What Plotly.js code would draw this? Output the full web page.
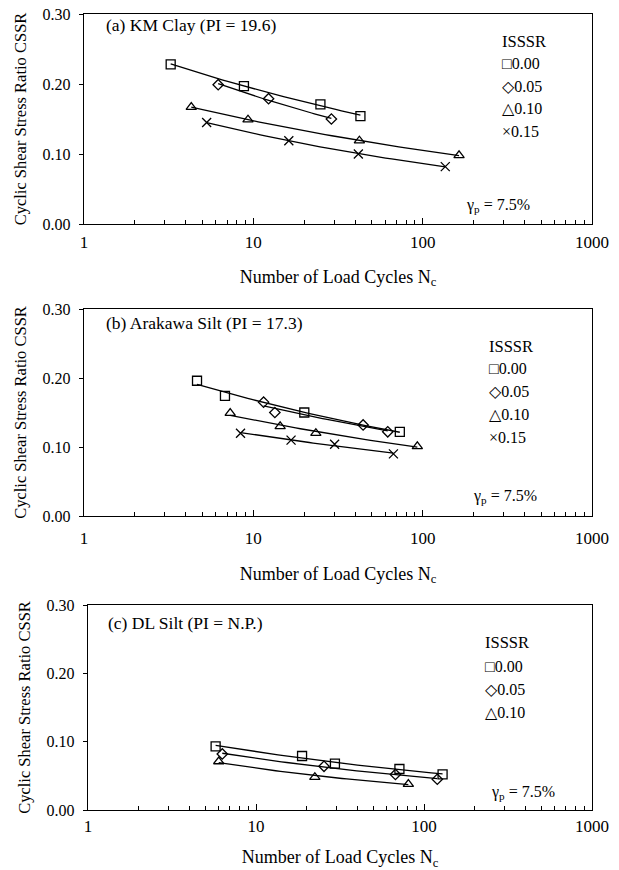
<!DOCTYPE html>
<html>
<head>
<meta charset="utf-8">
<script src="https://cdn.plot.ly/plotly-3.0.1.min.js"></script>
<style>html,body{margin:0;padding:0;background:#fff;}#chart{width:619px;height:870px;}</style>
</head>
<body>
<div id="chart"></div>
<script>
// ---------- DATA ----------
const isssrLabels = ["0.00", "0.05", "0.10", "0.15"];

// (a) KM Clay
const a_N00 = [3.25, 8.8, 24.9, 42.9];   const a_C00 = [0.228, 0.197, 0.171, 0.154];
const a_N05 = [6.2, 12.3, 28.9];         const a_C05 = [0.199, 0.179, 0.150];
const a_N10 = [4.3, 9.3, 42.3, 164];     const a_C10 = [0.167, 0.149, 0.119, 0.098];
const a_N15 = [5.3, 16.2, 41.7, 136];    const a_C15 = [0.145, 0.119, 0.100, 0.082];

// (b) Arakawa Silt
const b_N00 = [4.65, 6.8, 20.0, 73.3];   const b_C00 = [0.196, 0.174, 0.150, 0.122];
const b_N05 = [11.5, 13.4, 44.5, 62.2];  const b_C05 = [0.165, 0.150, 0.132, 0.122];
const b_N10 = [7.3, 14.4, 23.4, 93];     const b_C10 = [0.149, 0.130, 0.120, 0.101];
const b_N15 = [8.4, 16.7, 30.2, 67.2];   const b_C15 = [0.120, 0.110, 0.104, 0.090];

// (c) DL Silt
const c_N00 = [5.75, 18.8, 29.5, 71.4, 129]; const c_C00 = [0.093, 0.079, 0.068, 0.060, 0.052];
const c_N05 = [6.3, 25.4, 67.6, 120];        const c_C05 = [0.082, 0.064, 0.052, 0.045];
const c_N10 = [6.0, 22.4, 80.7];             const c_C10 = [0.071, 0.048, 0.038];

const panelTitles = ["(a) KM Clay (PI = 19.6)", "(b) Arakawa Silt (PI = 17.3)", "(c) DL Silt (PI = N.P.)"];
const xTickVals = [1, 10, 100, 1000];
const yTickVals = [0, 0.1, 0.2, 0.3];

// ---------- STYLE ----------
const FONT = "Liberation Serif, Times New Roman, serif";
const LEG_FONT = "Liberation Serif, DejaVu Sans, serif";
const symbols = ["square-open", "diamond-open", "triangle-up-open", "x-thin-open"];
const symbolSizes = [9, 8, 9, 9];
const legendGlyphs = ["\u25A1", "\u25C7", "\u25B3", "\u00D7"];

const W = 619, H = 870;
const px = x => x / W;
const py = y => 1 - y / H;

const panels = [
  {sets: [[a_N00, a_C00], [a_N05, a_C05], [a_N10, a_C10], [a_N15, a_C15]], xa: "x",  ya: "y"},
  {sets: [[b_N00, b_C00], [b_N05, b_C05], [b_N10, b_C10], [b_N15, b_C15]], xa: "x2", ya: "y2"},
  {sets: [[c_N00, c_C00], [c_N05, c_C05], [c_N10, c_C10]],                  xa: "x3", ya: "y3"}
];

// power-law trend (CSSR = a * N^b) fitted to each series' own points
function powerFit(xs, ys) {
  const n = xs.length;
  let sx = 0, sy = 0, sxx = 0, sxy = 0;
  for (let i = 0; i < n; i++) {
    const lx = Math.log(xs[i]), ly = Math.log(ys[i]);
    sx += lx; sy += ly; sxx += lx * lx; sxy += lx * ly;
  }
  const b = (n * sxy - sx * sy) / (n * sxx - sx * sx);
  const a = Math.exp((sy - b * sx) / n);
  const lo = Math.log10(Math.min(...xs)), hi = Math.log10(Math.max(...xs));
  const fx = [], fy = [];
  for (let k = 0; k <= 40; k++) {
    const xv = Math.pow(10, lo + (hi - lo) * k / 40);
    fx.push(xv); fy.push(a * Math.pow(xv, b));
  }
  return [fx, fy];
}

const traces = [];
panels.forEach((p, pi) => {
  p.sets.forEach((s, si) => {
    const [fx, fy] = powerFit(s[0], s[1]);
    traces.push({x: fx, y: fy, xaxis: p.xa, yaxis: p.ya, mode: "lines", type: "scatter",
      line: {color: "#000", width: 1.3}, showlegend: false, hoverinfo: "skip"});
    traces.push({x: s[0], y: s[1], xaxis: p.xa, yaxis: p.ya, mode: "markers", type: "scatter",
      name: "ISSSR " + isssrLabels[si], showlegend: false,
      marker: {symbol: symbols[si], size: symbolSizes[si], color: "#000", line: {color: "#000", width: 1.3}}});
  });
});

// pixel geometry of the three plot boxes
const boxes = [
  {l: 84, r: 592, t: 14,  b: 224, xlab: 2, xtitle: 19},
  {l: 84, r: 592, t: 309, b: 516, xlab: 6, xtitle: 20},
  {l: 88, r: 592, t: 605, b: 810, xlab: 0, xtitle: 19}
];

function xAxis(box, anchor) {
  return {
    type: "log", range: [0, 3], domain: [px(box.l), px(box.r)], anchor: anchor,
    tickvals: xTickVals, ticktext: xTickVals.map(String),
    ticks: "inside", ticklen: 6, tickwidth: 1, tickcolor: "#000",
    minor: {ticks: "inside", ticklen: 4, tickwidth: 1, tickcolor: "#000", dtick: "D1", showgrid: false},
    showline: true, linecolor: "#000", linewidth: 1.3, mirror: true,
    showgrid: false, zeroline: false, automargin: false,
    ticklabelstandoff: box.xlab,
    tickfont: {family: FONT, size: 17, color: "#000"},
    title: {text: "Number of Load Cycles N<sub>c</sub>", font: {family: FONT, size: 18, color: "#000"}, standoff: box.xtitle}
  };
}
function yAxis(box, anchor) {
  return {
    range: [0, 0.3], domain: [py(box.b), py(box.t)], anchor: anchor,
    tickvals: yTickVals, tickformat: ".2f",
    ticks: "outside", ticklen: 4, tickwidth: 1, tickcolor: "#000",
    showline: true, linecolor: "#000", linewidth: 1.3, mirror: true,
    showgrid: false, zeroline: false, automargin: false,
    ticklabelstandoff: 5,
    tickfont: {family: FONT, size: 16, color: "#000"},
    title: {text: "Cyclic Shear Stress Ratio CSSR", font: {family: FONT, size: 16.5, color: "#000"}, standoff: 11}
  };
}

const annotations = [];
const panelLabelPos = [{x: 104, y: 25}, {x: 104, y: 323}, {x: 106, y: 623}];
const gammaPos = [{x: 498, y: 206}, {x: 505, y: 497}, {x: 523, y: 792}];
const legendPos = [
  {x: 500, title: 42,  ys: [63, 86, 109, 132]},
  {x: 487, title: 347, ys: [368, 391, 414, 437]},
  {x: 483, title: 642, ys: [666, 689, 712]}
];
panelTitles.forEach((t, i) => {
  annotations.push({xref: "paper", yref: "paper", x: px(panelLabelPos[i].x), y: py(panelLabelPos[i].y),
    xanchor: "left", yanchor: "middle", showarrow: false, text: t,
    font: {family: FONT, size: 17.5, color: "#000"}});
  annotations.push({xref: "paper", yref: "paper", x: px(gammaPos[i].x), y: py(gammaPos[i].y),
    xanchor: "center", yanchor: "middle", showarrow: false, text: "\u03B3<sub>p</sub> = 7.5%",
    font: {family: FONT, size: 16, color: "#000"}});
  const lg = legendPos[i];
  annotations.push({xref: "paper", yref: "paper", x: px(lg.x), y: py(lg.title),
    xanchor: "left", yanchor: "middle", showarrow: false, text: "ISSSR",
    font: {family: FONT, size: 16.5, color: "#000"}});
  lg.ys.forEach((yy, k) => {
    annotations.push({xref: "paper", yref: "paper", x: px(lg.x), y: py(yy),
      xanchor: "left", yanchor: "middle", showarrow: false,
      text: legendGlyphs[k] + isssrLabels[k],
      font: {family: LEG_FONT, size: 16, color: "#000"}});
  });
});

const layout = {
  width: W, height: H,
  margin: {l: 0, r: 0, t: 0, b: 0},
  paper_bgcolor: "#fff", plot_bgcolor: "#fff",
  showlegend: false,
  font: {family: FONT, color: "#000"},
  xaxis: xAxis(boxes[0], "y"),   yaxis: yAxis(boxes[0], "x"),
  xaxis2: xAxis(boxes[1], "y2"), yaxis2: yAxis(boxes[1], "x2"),
  xaxis3: xAxis(boxes[2], "y3"), yaxis3: yAxis(boxes[2], "x3"),
  annotations: annotations
};

Plotly.newPlot("chart", traces, layout, {staticPlot: true, displayModeBar: false});
</script>
</body>
</html>
